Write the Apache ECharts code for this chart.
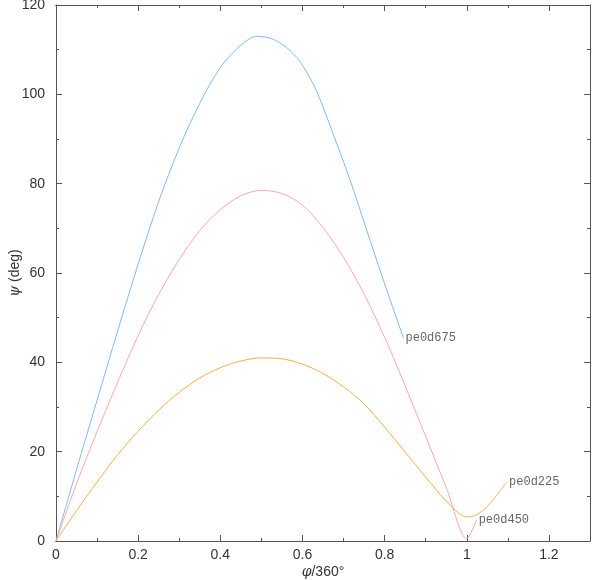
<!DOCTYPE html>
<html>
<head>
<meta charset="utf-8">
<script src="https://cdn.jsdelivr.net/npm/echarts@6/dist/echarts.min.js"></script>
<style>
  html, body { margin: 0; padding: 0; background: #fff; }
  #chart { width: 592px; height: 580px; }
</style>
</head>
<body>
<div id="chart"></div>
<script>
// curves: [phi/360, psi (deg)]
const pe0d675 = [
  [0, 0], [0.05, 16.0], [0.1, 31.5], [0.15, 47.0], [0.2, 62.0],
  [0.25, 76.0], [0.3, 88.0], [0.35, 98.0], [0.4, 106.0], [0.45, 111.0],
  [0.49, 113.0], [0.53, 112.3], [0.57, 109.8], [0.6, 106.5], [0.635, 100.6],
  [0.684, 88.8], [0.716, 80.8], [0.755, 70.0], [0.797, 58.4], [0.846, 45.4]
]
const pe0d450 = [
  [0, 0], [0.05, 12.8], [0.1, 24.5], [0.15, 35.5], [0.2, 46.0],
  [0.25, 55.2], [0.3, 63.0], [0.35, 69.5], [0.4, 74.2], [0.45, 77.3],
  [0.5, 78.5], [0.55, 77.8], [0.6, 75.2], [0.65, 70.2], [0.7, 63.5],
  [0.75, 55.3], [0.8, 45.6], [0.834, 38.3], [0.87, 30.2], [0.9, 23.4],
  [0.95, 12.0], [1.0, 0.5], [1.024, 4.8]
]
const pe0d225 = [
  [0, 0], [0.05, 6.8], [0.1, 13.2], [0.15, 19.3], [0.2, 24.6],
  [0.25, 29.3], [0.3, 33.3], [0.35, 36.5], [0.4, 38.8], [0.45, 40.3],
  [0.5, 41.0], [0.55, 40.8], [0.6, 39.6], [0.65, 37.5], [0.7, 34.5],
  [0.75, 30.7], [0.8, 25.5], [0.85, 19.9], [0.9, 14.3], [0.95, 8.9],
  [0.98, 6.3], [1.0, 5.4], [1.02, 5.7], [1.05, 7.7], [1.098, 13.3]
]

const xMajorTicks = [0, 0.2, 0.4, 0.6, 0.8, 1, 1.2]
const xMinorTicks = [0.1, 0.3, 0.5, 0.7, 0.9, 1.1]

const chart = echarts.init(document.getElementById('chart'))

const frameColor = '#555'
const labelFont = 'Liberation Sans'

const xBase = (position, showLabel, ticks, len) => ({
  type: 'value',
  position: position,
  min: 0,
  max: 1.3,
  interval: 0.1,
  axisLine: { show: true, onZero: false, lineStyle: { color: frameColor, width: 1 } },
  axisTick: { show: true, inside: true, length: len, customValues: ticks, lineStyle: { color: frameColor } },
  axisLabel: showLabel ? {
    show: true, customValues: xMajorTicks, margin: 7, fontSize: 14,
    fontFamily: labelFont, color: '#333',
    formatter: v => String(Math.round(v * 10) / 10)
  } : { show: false },
  splitLine: { show: false }
})

const yBase = (position, showLabel) => ({
  type: 'value',
  position: position,
  min: 0,
  max: 120,
  interval: 20,
  axisLine: { show: true, onZero: false, lineStyle: { color: frameColor, width: 1 } },
  axisTick: { show: true, inside: true, length: 6, lineStyle: { color: frameColor } },
  minorTick: { show: true, splitNumber: 2, length: 3, lineStyle: { color: frameColor } },
  axisLabel: showLabel ? { show: true, margin: 11, fontSize: 14, fontFamily: labelFont, color: '#333' } : { show: false },
  splitLine: { show: false },
  minorSplitLine: { show: false }
})

const nameStyle = {
  fontSize: 14, fontFamily: labelFont, color: '#333',
  rich: { i: { fontSize: 14, fontStyle: 'italic', fontFamily: 'DejaVu Serif', color: '#333' } }
}

const xMain = xBase('bottom', true, xMajorTicks, 6)
xMain.name = '{i|φ}/360°'
xMain.nameLocation = 'middle'
xMain.nameGap = 24
xMain.nameMoveOverlap = false
xMain.nameTextStyle = nameStyle

const yMain = yBase('left', true)
yMain.name = '{i|ψ} (deg)'
yMain.nameLocation = 'middle'
yMain.nameGap = 34
yMain.nameMoveOverlap = false
yMain.nameTextStyle = nameStyle

const endLabel = {
  show: true,
  formatter: '{a}',
  distance: 2,
  fontFamily: 'Liberation Mono',
  fontSize: 12,
  color: '#666'
}

const lineSeries = (name, data, color) => ({
  name: name,
  type: 'line',
  xAxisIndex: 0,
  yAxisIndex: 0,
  data: data,
  smooth: 0.3,
  showSymbol: false,
  symbol: 'none',
  lineStyle: { color: color, width: 1 },
  itemStyle: { color: color },
  endLabel: endLabel,
  animation: false
})

chart.setOption({
  animation: false,
  grid: { left: 56, right: 2, top: 5, bottom: 39, containLabel: false, outerBoundsMode: 'none' },
  xAxis: [
    xMain,
    xBase('bottom', false, xMinorTicks, 3),
    xBase('top', false, xMajorTicks, 6),
    xBase('top', false, xMinorTicks, 3)
  ],
  yAxis: [
    yMain,
    yBase('right', false)
  ],
  series: [
    lineSeries('pe0d675', pe0d675, '#80b8ff'),
    lineSeries('pe0d450', pe0d450, '#ffa8a8'),
    lineSeries('pe0d225', pe0d225, '#ffa94d')
  ]
})
</script>
</body>
</html>
